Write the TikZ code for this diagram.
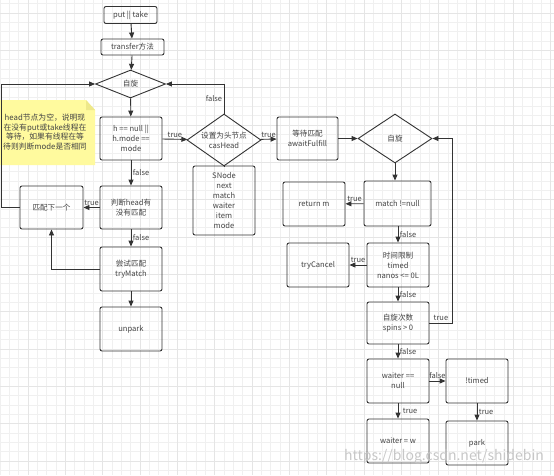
\documentclass[tikz,border=0pt]{standalone}
\usepackage{fontspec}
\setmainfont{Noto Sans CJK SC}
\usetikzlibrary{shapes.geometric,arrows.meta}

\definecolor{linegray}{HTML}{333333}
\definecolor{txtgray}{HTML}{444444}
\definecolor{notebg}{HTML}{FFFA9E}
\definecolor{notefold}{HTML}{EEE88A}

\tikzset{
  box/.style={draw=linegray, line width=0.9pt, rounded corners=2pt, minimum width=62pt,
    minimum height=44pt, align=center, text=txtgray, font=\fontsize{7.6}{10}\selectfont, inner sep=1pt},
  dia/.style={draw=linegray, line width=0.9pt, diamond, inner sep=0pt,
    label={[align=center, text=txtgray, font=\fontsize{7.6}{10}\selectfont]center:#1}},
  conn/.style={draw=linegray, line width=0.9pt, -{Triangle[length=6pt,width=5pt]}},
  lbl/.style={text=txtgray, font=\fontsize{7.5}{8}\selectfont, inner sep=1.5pt},
  minor/.style={draw=black!6, line width=0.5pt},
  major/.style={draw=black!10, line width=0.6pt},
}

\begin{document}
\begin{tikzpicture}[x=1pt, y=-1pt]
\useasboundingbox[fill=white] (0,0) rectangle (554,475);
% background grid
\foreach \i in {0,...,60} \draw[minor] ({\i*9.333},0) -- ({\i*9.333},475);
\foreach \j in {0,...,51} \draw[minor] (0,{3.7+\j*9.333}) -- (554,{3.7+\j*9.333});
\foreach \i in {0,...,14} \draw[major] ({28+\i*37.33},0) -- ({28+\i*37.33},475);
\foreach \j in {0,...,12} \draw[major] (0,{13+\j*37.33}) -- (554,{13+\j*37.33});

% note
\fill[notebg] (0,100) -- (86,100) -- (95,110) -- (95,165) -- (0,165) -- cycle;
\fill[notefold] (86,100) -- (86,110) -- (95,110) -- cycle;
\node[text=txtgray, font=\fontsize{7.8}{9.7}\selectfont, align=center, text width=100pt, inner sep=0pt] (memo) at (45,132)
  {head节点为空，说明现\\在没有put或take线程在\\等待，如果有线程在等\\待则判断mode是否相同};

% left column
\node[box, minimum width=53pt, minimum height=17pt] (put) at (130.5,15) {put || take};
\node[box, minimum width=63pt, minimum height=16pt] (transfer) at (132.5,47) {transfer方法};
\node[dia={自旋}, minimum width=70pt, minimum height=28pt] (spin) at (130.5,84) {};
\node[box, minimum height=43pt] (hnull) at (131,138.5) {h == null ||\\h.mode ==\\mode};
\node[box, minimum height=43pt] (judge) at (131,207.5) {判断head有\\没有匹配};
\node[box, minimum width=63pt, minimum height=43pt] (next) at (51.5,207.5) {匹配下一个};
\node[box] (trymatch) at (131,269) {尝试匹配\\tryMatch};
\node[box] (unpark) at (131,329) {unpark};

% middle
\node[dia={设置为头节点\\casHead}, minimum width=74pt, minimum height=52pt] (cas) at (224,140) {};
\node[box, minimum height=69pt] (snode) at (224,200.5) {SNode\\next\\match\\waiter\\item\\mode};
\node[box, minimum width=61pt, minimum height=43pt] (await) at (307.5,138.5) {等待匹配\\awaitFulfill};

% right column
\node[dia={自旋}, minimum width=74pt, minimum height=49pt] (spintwo) at (395,138.5) {};
\node[box, minimum width=67pt, minimum height=45pt] (match) at (397.5,203.5) {match !=null};
\node[box] (retm) at (314,204) {return m};
\node[box] (timed) at (398,265) {时间限制\\timed\\nanos <= 0L};
\node[box] (cancel) at (318,265) {tryCancel};
\node[box, minimum height=42pt] (spins) at (398,323) {自旋次数\\spins > 0};
\node[box] (waiter) at (398,381) {waiter ==\\null};
\node[box] (nottimed) at (477,381) {!timed};
\node[box] (setw) at (398,441) {waiter = w};
\node[box] (park) at (477,443) {park};

% connectors
\draw[conn] (put) -- (transfer);
\draw[conn] (transfer) -- (spin);
\draw[conn] (spin) -- (hnull);
\draw[conn] (hnull) -- node[lbl, above] {true} (cas);
\draw[conn] (cas.north) |- node[lbl, pos=0.25, left] {false} (spin.east);
\draw[conn] (cas) -- node[lbl, above] {true} (await);
\draw[conn] (hnull) -- node[lbl, right] {false} (judge);
\draw[conn] (judge) -- node[lbl, above] {true} (next);
\draw[conn] (next.west) -- ++(-18,0) |- (spin.west);
\draw[conn] (judge) -- node[lbl, right] {false} (trymatch);
\draw[conn] (trymatch.west) -| (next.south);
\draw[conn] (trymatch) -- (unpark);
\draw[linegray, line width=0.9pt] (cas.south) -- (snode.north);

\draw[conn] (await) -- (spintwo);
\draw[conn] (spintwo.south) -- (spintwo.south |- match.north);
\draw[conn] (match) -- node[lbl, above] {true} (retm);
\draw[conn] (match.south -| timed) -- node[lbl, right] {false} (timed);
\draw[conn] (timed) -- node[lbl, above] {true} (cancel);
\draw[conn] (timed) -- node[lbl, right] {false} (spins);
\draw[conn] (spins.east) -- node[lbl, above] {true} ++(23,0) |- (spintwo.east);
\draw[conn] (spins) -- node[lbl, right] {false} (waiter);
\draw[conn] (waiter) -- node[lbl, above] {false} (nottimed);
\draw[conn] (waiter) -- node[lbl, right=3pt] {true} (setw);
\draw[conn] (nottimed) -- node[lbl, right] {true} (park);

% watermark
\node[text=black!22, font=\fontsize{14}{14}\selectfont, inner sep=0pt] (mark) at (444,457) {https://blog.csdn.net/shidebin};
\end{tikzpicture}
\end{document}
